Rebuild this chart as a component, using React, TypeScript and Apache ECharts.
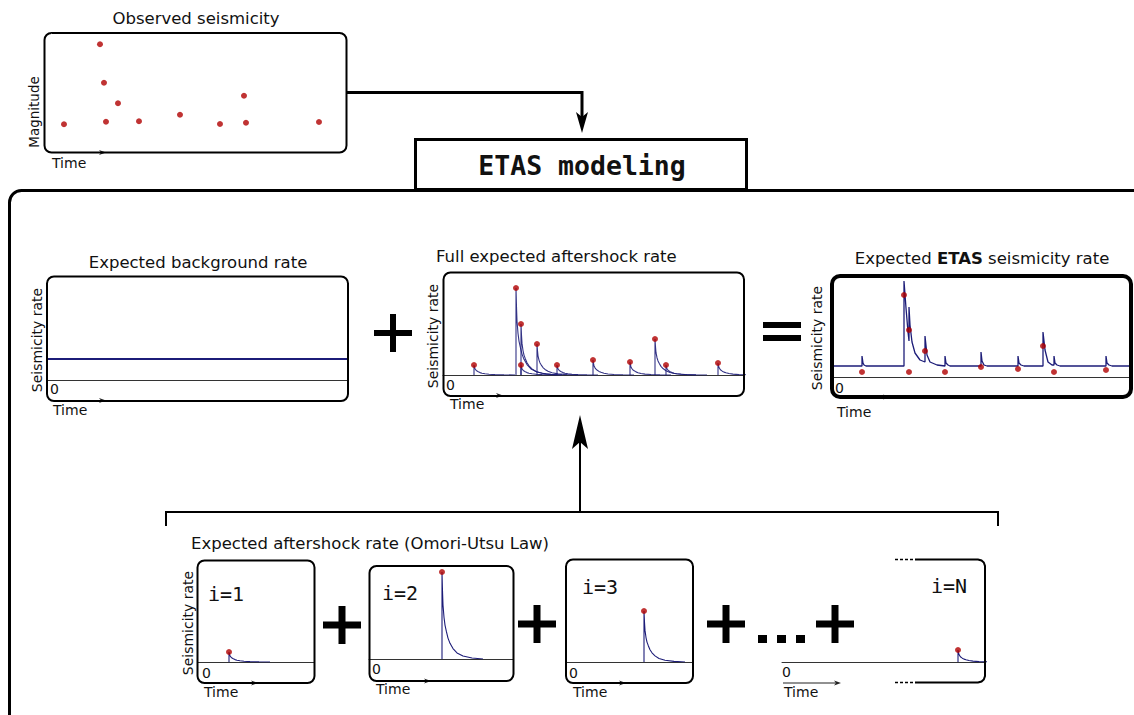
import React, { useEffect, useRef } from "react";
import * as echarts from "echarts";

// ---------- data ----------
const observedTime = [20, 56, 60, 62, 74, 95, 136, 176, 200, 202, 275];
const observedMagnitude = [2.11, 5.31, 3.77, 2.21, 2.95, 2.23, 2.49, 2.12, 3.25, 2.17, 2.2];

const eventTime = [31, 73, 78, 78, 94, 114, 150, 187, 212, 223, 275];
const aftershockPeak = [10, 87, 51, 10, 31, 10, 15, 13, 36, 10, 12];
const etasMarkerRate = [5, 82, 47, 5, 26, 5, 10, 8, 31, 5, 7];

// Omori-Utsu decay shape (time after event, fraction of peak) read from the i=2 panel
const omoriDt = [0, 0.5, 1, 2, 3, 4.3, 6, 8, 11, 15, 21, 30, 41];
const omoriShape = [1, 0.78, 0.62, 0.48, 0.39, 0.32, 0.24, 0.18, 0.12, 0.07, 0.035, 0.012, 0];

const backgroundRate = 21;

const etasCurveTime = [0, 31, 31, 32, 33, 35, 73, 73, 75, 77, 78, 78, 79, 81, 84, 89, 94, 94, 96, 99, 106, 114, 114, 115, 117, 119, 150, 150, 151, 153, 156, 187, 187, 188, 190, 193, 212, 212, 214, 217, 221, 223, 223, 224, 226, 229, 275, 275, 276, 278, 281, 301];
const etasCurveRate = [11, 11, 21, 14, 12, 11, 11, 96, 69, 45, 36, 70, 52, 35, 24, 17, 15, 41, 22, 15, 12, 11, 21, 14, 12, 11, 11, 25, 16, 12, 11, 11, 21, 14, 12, 11, 11, 45, 27, 15, 12, 12, 21, 14, 12, 11, 11, 21, 14, 12, 11, 11];

const singleEventIndex = [0, 1, 2, 10];
const singleLabels = ["i=1", "i=2", "i=3", "i=N"];

// ---------- styling ----------
const FONT = '"DejaVu Sans", Verdana, sans-serif';
const MONO = '"DejaVu Sans Mono", monospace';
const NAVY = "#1c1c78";
const RED = "#b00000";
const INK = "#111111";
const TITLE = 16.5;
const LAB = 14;

type G = { left: number; top: number; width: number; height: number; xmin: number; xmax: number; ymin: number; ymax: number; zero: boolean };
const grids: G[] = [
  { left: 44, top: 33, width: 303, height: 119, xmin: 0, xmax: 303, ymin: 1, ymax: 5.76, zero: false },
  { left: 47, top: 276, width: 301, height: 104, xmin: 0, xmax: 301, ymin: 0, ymax: 104, zero: true },
  { left: 443, top: 272, width: 301, height: 103, xmin: 0, xmax: 301, ymin: 0, ymax: 103, zero: true },
  { left: 831, top: 276, width: 301, height: 101, xmin: 0, xmax: 301, ymin: 0, ymax: 101, zero: true },
  { left: 198, top: 560, width: 116, height: 102, xmin: 0, xmax: 116, ymin: 0, ymax: 102, zero: true },
  { left: 369, top: 566, width: 144, height: 93, xmin: 0, xmax: 144, ymin: 0, ymax: 93, zero: true },
  { left: 566, top: 559, width: 127, height: 103, xmin: 0, xmax: 127, ymin: 0, ymax: 103, zero: true },
  { left: 782, top: 559, width: 203, height: 103, xmin: 99, xmax: 302, ymin: 0, ymax: 103, zero: true },
];

function eventCurve(k: number) {
  const t = eventTime[k];
  const p = aftershockPeak[k];
  const pts: number[][] = [[t, 0], [t, p]];
  omoriDt.forEach((d, j) => pts.push([t + d, p * omoriShape[j]]));
  return pts;
}

function txt(x: number, y: number, t: string, size: number, o: any = {}) {
  return {
    type: "text",
    x,
    y,
    z: 30,
    rotation: o.rot || 0,
    style: {
      text: t,
      fontSize: size,
      fontFamily: o.mono ? MONO : FONT,
      fontWeight: o.bold ? "bold" : "normal",
      fill: INK,
      align: o.align || "left",
      verticalAlign: "middle",
      rich: o.rich,
    },
  };
}

function box(x: number, y: number, w: number, h: number, lw = 2, fill = "none") {
  return { type: "rect", z: 20, shape: { x, y, width: w, height: h, r: 7 }, style: { fill, stroke: "#000", lineWidth: lw } };
}

function timeArrow(x1: number, x2: number, y: number) {
  return [
    { type: "line", z: 15, shape: { x1, y1: y, x2: x2 - 4, y2: y }, style: { stroke: "#222", lineWidth: 1 } },
    { type: "polygon", z: 15, shape: { points: [[x2, y], [x2 - 7, y - 2.5], [x2 - 5, y], [x2 - 7, y + 2.5]] }, style: { fill: "#222" } },
  ];
}

function plus(cx: number, cy: number, size: number, th: number) {
  return [
    { type: "rect", z: 20, shape: { x: cx - size / 2, y: cy - th / 2, width: size, height: th }, style: { fill: "#000" } },
    { type: "rect", z: 20, shape: { x: cx - th / 2, y: cy - size / 2, width: th, height: size }, style: { fill: "#000" } },
  ];
}

export default function App() {
  const ref = useRef<HTMLDivElement>(null);
  useEffect(() => {
    if (!ref.current) return;
    const chart = echarts.init(ref.current, undefined, { renderer: "svg" });

    const gridOpt = grids.map((g) => ({ left: g.left, top: g.top, width: g.width, height: g.height, outerBoundsMode: "none", containLabel: false }));
    const xAxes = grids.map((g, i) => ({
      type: "value",
      gridIndex: i,
      min: g.xmin,
      max: g.xmax,
      show: g.zero,
      axisLine: { show: true, onZero: false, lineStyle: { color: "#333", width: 1 } },
      axisTick: { show: false },
      axisLabel: { show: false },
      splitLine: { show: false },
    }));
    const yAxes = grids.map((g, i) => ({
      type: "value",
      gridIndex: i,
      min: g.ymin,
      max: g.ymax,
      show: false,
      splitLine: { show: false },
    }));

    const series: any[] = [];
    series.push({
      type: "scatter",
      xAxisIndex: 0,
      yAxisIndex: 0,
      symbolSize: 6,
      itemStyle: { color: RED },
      data: observedTime.map((t, i) => [t, observedMagnitude[i]]),
    });
    series.push({
      type: "line",
      xAxisIndex: 1,
      yAxisIndex: 1,
      symbol: "none",
      lineStyle: { color: NAVY, width: 2 },
      data: [[grids[1].xmin, backgroundRate], [grids[1].xmax, backgroundRate]],
    });
    eventTime.forEach((_, k) => {
      series.push({
        type: "line",
        xAxisIndex: 2,
        yAxisIndex: 2,
        symbol: "none",
        lineStyle: { color: NAVY, width: 1.1, opacity: 0.9 },
        data: eventCurve(k),
      });
    });
    series.push({
      type: "scatter",
      xAxisIndex: 2,
      yAxisIndex: 2,
      symbolSize: 6,
      z: 5,
      itemStyle: { color: RED },
      data: eventTime.map((t, i) => [t, aftershockPeak[i]]),
    });
    series.push({
      type: "line",
      xAxisIndex: 3,
      yAxisIndex: 3,
      symbol: "none",
      lineStyle: { color: NAVY, width: 1.3 },
      data: etasCurveTime.map((t, i) => [t, etasCurveRate[i]]),
    });
    series.push({
      type: "scatter",
      xAxisIndex: 3,
      yAxisIndex: 3,
      symbolSize: 6,
      z: 5,
      itemStyle: { color: RED },
      data: eventTime.map((t, i) => [t, etasMarkerRate[i]]),
    });
    singleEventIndex.forEach((k, j) => {
      series.push({
        type: "line",
        xAxisIndex: 4 + j,
        yAxisIndex: 4 + j,
        symbol: "none",
        lineStyle: { color: NAVY, width: 1.1 },
        data: eventCurve(k),
      });
      series.push({
        type: "scatter",
        xAxisIndex: 4 + j,
        yAxisIndex: 4 + j,
        symbolSize: 6,
        z: 5,
        itemStyle: { color: RED },
        data: [[eventTime[k], aftershockPeak[k]]],
      });
    });

    const el: any[] = [];
    el.push({ type: "rect", z: 10, shape: { x: 9.5, y: 190.5, width: 1300, height: 700, r: 12 }, style: { fill: "none", stroke: "#000", lineWidth: 3 } });
    el.push({ type: "rect", z: 11, shape: { x: 415.5, y: 139.5, width: 331, height: 50 }, style: { fill: "#fff", stroke: "#000", lineWidth: 3 } });
    el.push(txt(582, 165, "ETAS modeling", 26.5, { mono: true, bold: true, align: "center" }));
    el.push({ type: "polyline", z: 12, shape: { points: [[346, 92.5], [582, 92.5], [582, 118]] }, style: { stroke: "#000", lineWidth: 3, fill: "none" } });
    el.push({ type: "polygon", z: 12, shape: { points: [[582, 133], [576, 112], [582, 117], [588, 112]] }, style: { fill: "#000" } });

    // observed panel
    el.push(box(44.5, 33, 302, 119.5));
    el.push(txt(196, 18, "Observed seismicity", TITLE, { align: "center" }));
    el.push(txt(34, 112, "Magnitude", 13.5, { align: "center", rot: Math.PI / 2 }));
    el.push(txt(52, 163, "Time", LAB));
    el.push(...timeArrow(52, 106, 152.5));

    // background panel
    el.push(box(47, 276.5, 301, 124.5));
    el.push(txt(198, 262, "Expected background rate", TITLE, { align: "center" }));
    el.push(txt(37, 340, "Seismicity rate", LAB, { align: "center", rot: Math.PI / 2 }));
    el.push(txt(50, 389, "0", LAB));
    el.push(txt(53, 410, "Time", LAB));
    el.push(...timeArrow(53, 106, 400.5));

    el.push(...plus(393, 333, 38, 6));

    // full aftershock panel
    el.push(box(443.5, 272.5, 300.5, 123.5));
    el.push(txt(436, 256, "Full expected aftershock rate", TITLE));
    el.push(txt(433, 336, "Seismicity rate", LAB, { align: "center", rot: Math.PI / 2 }));
    el.push(txt(446, 385, "0", LAB));
    el.push(txt(450, 404, "Time", LAB));
    el.push(...timeArrow(451, 503, 395.5));

    el.push({ type: "rect", z: 20, shape: { x: 763, y: 322, width: 38, height: 6 }, style: { fill: "#000" } });
    el.push({ type: "rect", z: 20, shape: { x: 763, y: 335, width: 38, height: 6 }, style: { fill: "#000" } });

    // ETAS panel
    el.push(...timeArrow(837, 890, 397));
    el.push({ type: "rect", z: 21, shape: { x: 832, y: 276, width: 299, height: 121, r: 8 }, style: { fill: "none", stroke: "#000", lineWidth: 4 } });
    el.push(
      txt(982, 258, "Expected {b|ETAS} seismicity rate", TITLE, {
        align: "center",
        rich: { b: { fontWeight: "bold", fontSize: TITLE, fontFamily: FONT, fill: INK } },
      })
    );
    el.push(txt(817, 338, "Seismicity rate", LAB, { align: "center", rot: Math.PI / 2 }));
    el.push(txt(835, 388, "0", LAB));
    el.push(txt(837, 412, "Time", LAB));

    // upward arrow + bracket
    el.push({ type: "line", z: 12, shape: { x1: 580, y1: 512, x2: 580, y2: 440 }, style: { stroke: "#000", lineWidth: 2 } });
    el.push({ type: "polygon", z: 12, shape: { points: [[580, 415], [572, 449], [580, 442], [588, 449]] }, style: { fill: "#000" } });
    el.push({ type: "polyline", z: 12, shape: { points: [[166, 526], [166, 512], [998, 512], [998, 526]] }, style: { stroke: "#000", lineWidth: 2, fill: "none" } });
    el.push(txt(191, 543, "Expected aftershock rate (Omori-Utsu Law)", TITLE));

    // i=1
    el.push(box(197.5, 560.5, 117, 122.5));
    el.push(txt(188, 623, "Seismicity rate", LAB, { align: "center", rot: Math.PI / 2 }));
    el.push(txt(208, 594, singleLabels[0], 20, { mono: true }));
    el.push(txt(202, 673, "0", LAB));
    el.push(txt(204, 692, "Time", LAB));
    el.push(...timeArrow(204, 258, 683));
    el.push(...plus(342, 625, 38, 7));
    // i=2
    el.push(box(369.5, 566, 144, 115));
    el.push(txt(382, 593, singleLabels[1], 20, { mono: true }));
    el.push(txt(372, 669, "0", LAB));
    el.push(txt(376, 689, "Time", LAB));
    el.push(...timeArrow(377, 431, 681));
    el.push(...plus(537, 624, 38, 7));
    // i=3
    el.push(box(566, 559.5, 127, 123.5));
    el.push(txt(582, 587, singleLabels[2], 20, { mono: true }));
    el.push(txt(569, 673, "0", LAB));
    el.push(txt(573, 692, "Time", LAB));
    el.push(...timeArrow(573, 626, 683));
    el.push(...plus(726, 624, 38, 7));
    [758, 777, 796].forEach((x) => el.push({ type: "rect", z: 20, shape: { x, y: 635, width: 9, height: 8 }, style: { fill: "#000" } }));
    el.push(...plus(835, 624, 38, 7));
    // i=N partial box
    el.push({
      type: "polyline",
      z: 20,
      shape: { points: [[915, 559.5], [978, 559.5], [981.5, 560.5], [983.8, 562.5], [985, 566], [985, 676], [983.8, 679.5], [981.5, 681.5], [978, 682.5], [915, 682.5]] },
      style: { stroke: "#000", lineWidth: 2, fill: "none" },
    });
    el.push({ type: "line", z: 20, shape: { x1: 895, y1: 559.5, x2: 915, y2: 559.5 }, style: { stroke: "#000", lineWidth: 1.5, lineDash: [3, 2] } });
    el.push({ type: "line", z: 20, shape: { x1: 895, y1: 682.5, x2: 915, y2: 682.5 }, style: { stroke: "#000", lineWidth: 1.5, lineDash: [3, 2] } });
    el.push(txt(931, 586, singleLabels[3], 20, { mono: true }));
    el.push(txt(782, 672, "0", LAB));
    el.push(txt(784, 692, "Time", LAB));
    el.push(...timeArrow(783, 841, 683));

    chart.setOption({
      animation: false,
      backgroundColor: "#ffffff",
      textStyle: { fontFamily: FONT },
      grid: gridOpt,
      xAxis: xAxes,
      yAxis: yAxes,
      series,
      graphic: { elements: el },
    });
    return () => chart.dispose();
  }, []);

  return <div ref={ref} style={{ position: "absolute", left: 0, top: 0, width: 1134, height: 715, background: "#fff" }} />;
}
